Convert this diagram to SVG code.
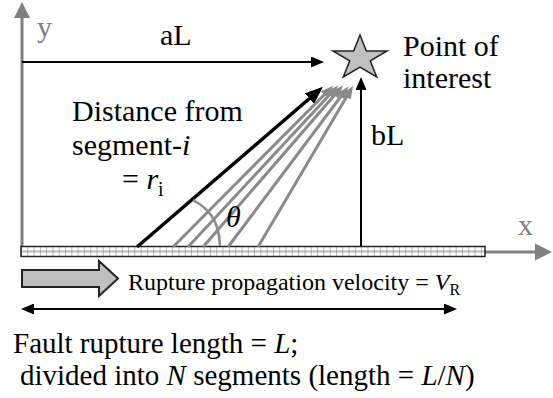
<svg xmlns="http://www.w3.org/2000/svg" width="553" height="398" viewBox="0 0 553 398" font-family="'Liberation Serif', 'Times New Roman', serif">
<style>
text{font-family:"Liberation Serif","Times New Roman",serif;fill:#000}
.lbl{font-family:"Liberation Serif","Times New Roman",serif;font-size:30px}
.axl{font-family:"Liberation Serif","Times New Roman",serif;font-size:30px;fill:#808080}
.it{font-style:italic}
.axis{stroke:#808080;stroke-width:3;fill:none}
.blk{stroke:#000;stroke-width:2;fill:none}
.ray{stroke:#8a8a8a;stroke-width:3;fill:none}
</style>
<defs>
<marker id="ah" markerUnits="userSpaceOnUse" markerWidth="13" markerHeight="11" refX="7" refY="5.5" orient="auto-start-reverse">
<path d="M0,0 L13,5.5 L0,11 z" fill="#000"/>
</marker>
<marker id="ahBig" markerUnits="userSpaceOnUse" markerWidth="18" markerHeight="14" refX="10" refY="7" orient="auto">
<path d="M0,0 L18,7 L0,14 z" fill="#000"/>
</marker>
<marker id="ahGray" markerUnits="userSpaceOnUse" markerWidth="13" markerHeight="10" refX="7" refY="5" orient="auto">
<path d="M0,0 L13,5 L0,10 z" fill="#8a8a8a"/>
</marker>
<pattern id="grid" patternUnits="userSpaceOnUse" x="21" y="246.5" width="6.3" height="10">
<rect width="6.3" height="10" fill="#fff"/>
<path d="M0,0 V10 M0,5 H6.3" stroke="#7a7a7a" stroke-width="1"/>
</pattern>
</defs>

<g id="y-axis">
<line class="axis" x1="22" y1="250" x2="22" y2="16"/>
<polygon points="22,2 14,18 30,18" fill="#808080"/>
<text class="axl" x="37" y="37">y</text>
</g>

<g id="x-axis">
<line class="axis" x1="485" y1="252" x2="538" y2="252"/>
<polygon points="552,252 535,243.5 535,260.5" fill="#808080"/>
<text class="axl" x="518" y="235">x</text>
</g>

<g id="fault">
<rect x="21" y="246.5" width="464" height="10" fill="url(#grid)" stroke="#222" stroke-width="1.5"/>
</g>

<g id="point-of-interest">
<polygon points="360,35 366.4,51 387,51 370.3,60.9 376.7,77 360,67.1 343.3,77 349.7,60.9 333,51 353.6,51" fill="#c0c0c0" stroke="#222" stroke-width="1.5"/>
<text class="lbl" x="403" y="56">Point of</text>
<text class="lbl" x="403" y="88">interest</text>
</g>

<g id="connectors">
<line class="blk" x1="22" y1="62" x2="318" y2="62" marker-end="url(#ah)"/>
<line class="blk" x1="361" y1="246" x2="361" y2="83" stroke-width="2.5" marker-end="url(#ah)"/>
<line class="ray" x1="173" y1="247" x2="329" y2="90" marker-end="url(#ahGray)"/>
<line class="ray" x1="188" y1="247" x2="334" y2="90" marker-end="url(#ahGray)"/>
<line class="ray" x1="203" y1="247" x2="339" y2="90" marker-end="url(#ahGray)"/>
<line class="ray" x1="228" y1="247" x2="345" y2="91" marker-end="url(#ahGray)"/>
<line class="ray" x1="258" y1="247" x2="350" y2="91" marker-end="url(#ahGray)"/>
<line x1="137" y1="247" x2="317" y2="92" stroke="#000" stroke-width="3.5" marker-end="url(#ahBig)"/>
<path d="M193,200 C207,208 219,218 220,246" stroke="#8a8a8a" stroke-width="2.5" fill="none"/>
<line class="blk" x1="27" y1="309" x2="451" y2="309" marker-start="url(#ah)" marker-end="url(#ah)"/>
</g>

<g id="labels">
<text class="lbl" x="160" y="45">aL</text>
<text class="lbl" x="371" y="145">bL</text>
<text class="lbl" x="72" y="121">Distance from</text>
<text class="lbl" x="72" y="155">segment-<tspan class="it">i</tspan></text>
<text class="lbl" x="122" y="189">= <tspan class="it">r</tspan><tspan x="158" dy="7" font-size="20">i</tspan></text>
<text class="lbl it" x="226" y="227">θ</text>
</g>

<g id="rupture-velocity">
<polygon points="22,270 99,270 99,261 118,278.5 99,296 99,287 22,287" fill="#bfbfbf" stroke="#222" stroke-width="2"/>
<text x="128" y="290" font-size="24">Rupture propagation velocity = <tspan class="it">V</tspan><tspan font-size="16" dy="5">R</tspan></text>
</g>

<g id="caption">
<text x="13" y="353" font-size="29">Fault rupture length = <tspan class="it">L</tspan>;</text>
<text x="20" y="385" font-size="29">divided into <tspan class="it">N</tspan> segments (length = <tspan class="it">L</tspan>/<tspan class="it">N</tspan>)</text>
</g>
</svg>
